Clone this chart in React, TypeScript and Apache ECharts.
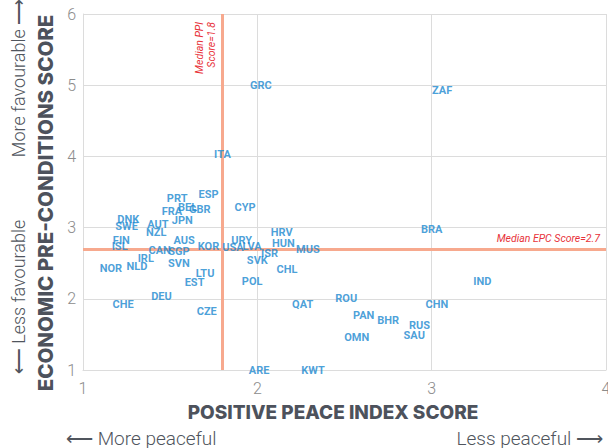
import React, { useEffect, useRef } from "react";
import * as echarts from "echarts";

const countries = ["GRC","ZAF","ITA","PRT","ESP","FRA","BEL","GBR","CYP","DNK","SWE","AUT","JPN","NZL","FIN","ISL","AUS","KOR","USA","URY","LVA","CAN","SGP","IRL","NLD","NOR","SVN","LTU","EST","DEU","CHE","CZE","POL","SVK","HRV","HUN","ISR","MUS","CHL","QAT","ROU","PAN","BHR","OMN","RUS","SAU","CHN","IND","BRA","ARE","KWT"];
const ppiScores = [2.02,3.06,1.80,1.54,1.72,1.51,1.60,1.67,1.93,1.26,1.25,1.43,1.57,1.42,1.22,1.21,1.58,1.72,1.86,1.91,1.97,1.44,1.55,1.36,1.31,1.16,1.55,1.70,1.64,1.45,1.23,1.71,1.97,2.00,2.14,2.15,2.07,2.29,2.17,2.26,2.51,2.61,2.75,2.57,2.93,2.90,3.03,3.29,3.00,2.01,2.32];
const epcScores = [5.00,4.93,4.03,3.41,3.46,3.22,3.28,3.25,3.28,3.11,3.01,3.04,3.10,2.93,2.82,2.73,2.82,2.73,2.72,2.82,2.73,2.68,2.66,2.56,2.46,2.42,2.49,2.35,2.23,2.03,1.92,1.82,2.25,2.54,2.93,2.77,2.63,2.69,2.41,1.92,2.01,1.77,1.69,1.46,1.63,1.48,1.92,2.25,2.97,1.00,1.00];
const xTicks = { min: 1, max: 4, interval: 1 };
const yTicks = { min: 1, max: 6, interval: 1 };
const medianPPI = 1.8;
const medianEPC = 2.7;

export default function App() {
  const ref = useRef<HTMLDivElement>(null);
  useEffect(() => {
    const chart = echarts.init(ref.current!, null, { renderer: "svg" });
    const data = countries.map((c, i) => ({ name: c, value: [ppiScores[i], epcScores[i]] }));
    const tickLabel = { fontSize: 16, color: "#8c8c8c", fontFamily: "Roboto", fontWeight: 300 };
    const dirStyle = { fontSize: 18, fontFamily: "Roboto", fontWeight: 300, fill: "#50555d" };
    const titleStyle = { fontWeight: 800, fontFamily: "Inter", fill: "#4d525c" };
    chart.setOption({
      animation: false,
      backgroundColor: "#ffffff",
      grid: { left: 83, right: 2, top: 14, bottom: 78, containLabel: false, outerBoundsMode: "none" },
      xAxis: {
        type: "value", ...xTicks,
        axisLine: { show: true, lineStyle: { color: "#dcdcdc", width: 1 } },
        axisTick: { show: false },
        splitLine: { show: true, lineStyle: { color: "#dcdcdc", width: 1 } },
        axisLabel: { ...tickLabel, margin: 10 },
      },
      yAxis: {
        type: "value", ...yTicks,
        axisLine: { show: true, lineStyle: { color: "#dcdcdc", width: 1 } },
        axisTick: { show: false },
        splitLine: { show: true, lineStyle: { color: "#dcdcdc", width: 1 } },
        axisLabel: { ...tickLabel, margin: 7 },
      },
      series: [
        {
          type: "scatter",
          z: 1,
          data: [],
          markLine: {
            silent: true,
            symbol: "none",
            z: 1,
            lineStyle: { color: "#f7a98e", width: 3, type: "solid" },
            label: {
              show: true,
              position: "insideEndTop",
              fontSize: 10.5,
              fontStyle: "italic",
              fontFamily: "Roboto",
              color: "#e8333a",
              lineHeight: 12,
            },
            data: [
              { xAxis: medianPPI, label: { formatter: "Median PPI\nScore=" + medianPPI, distance: [8, 5] } },
              { yAxis: medianEPC, label: { formatter: "Median EPC Score=" + medianEPC, distance: [6, 4] } },
            ],
          },
        },
        {
          type: "scatter",
          z: 5,
          symbolSize: 1,
          itemStyle: { color: "rgba(0,0,0,0)" },
          clip: false,
          data,
          label: {
            show: true,
            position: "inside",
            formatter: "{b}",
            fontSize: 11,
            fontWeight: "bold",
            fontFamily: "Roboto",
            color: "#1b88cf",
          },
          labelLayout: { hideOverlap: false },
        },
      ],
      graphic: [
        {
          type: "text", x: 333, y: 412,
          style: { text: "POSITIVE PEACE INDEX SCORE", ...titleStyle, fontSize: 19, align: "center", verticalAlign: "middle" },
        },
        {
          type: "text", x: 45, y: 203, rotation: Math.PI / 2,
          style: { text: "ECONOMIC PRE-CONDITIONS SCORE", ...titleStyle, fontSize: 20.5, align: "center", verticalAlign: "middle" },
        },
        {
          type: "text", x: 18, y: 78, rotation: Math.PI / 2,
          style: { text: "More favourable ⟶", ...dirStyle, align: "center", verticalAlign: "middle" },
        },
        {
          type: "text", x: 18, y: 297, rotation: Math.PI / 2,
          style: { text: "⟵ Less favourable", ...dirStyle, align: "center", verticalAlign: "middle" },
        },
        {
          type: "text", x: 66, y: 438,
          style: { text: "⟵ More peaceful", ...dirStyle, fontSize: 19, align: "left", verticalAlign: "middle" },
        },
        {
          type: "text", x: 603, y: 438,
          style: { text: "Less peaceful ⟶", ...dirStyle, fontSize: 19, align: "right", verticalAlign: "middle" },
        },
      ],
    });
    return () => chart.dispose();
  }, []);
  return <div ref={ref} style={{ position: "fixed", left: 0, top: 0, width: 608, height: 448 }} />;
}
